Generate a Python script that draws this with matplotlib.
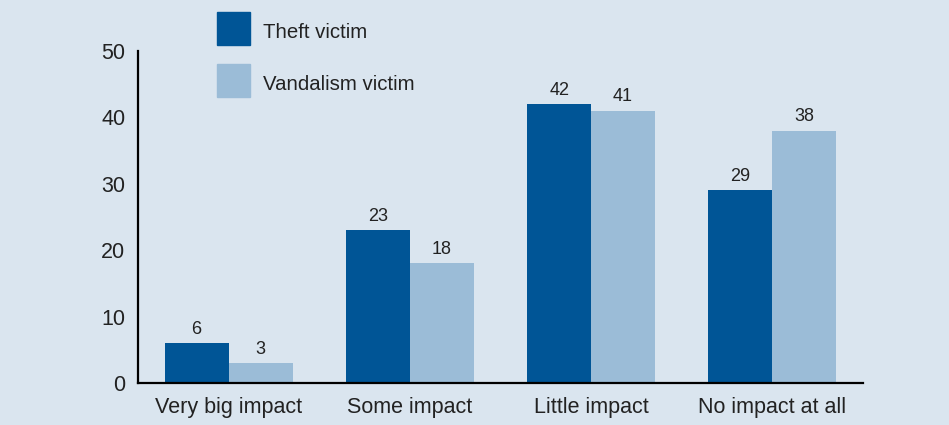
import numpy as np
import matplotlib.pyplot as plt
from matplotlib.patches import Rectangle

categories = ["Very big impact", "Some impact", "Little impact", "No impact at all"]
theft = [6, 23, 42, 29]
vandalism = [3, 18, 41, 38]
series_names = ["Theft victim", "Vandalism victim"]
yticks = [0, 10, 20, 30, 40, 50]

bg = "#dae5ef"
dark = "#005596"
light = "#9bbcd7"
txt = "#222222"

plt.rcParams['font.family'] = ['Liberation Sans', 'DejaVu Sans']

W, H = 949, 425
fig = plt.figure(figsize=(W/100, H/100), dpi=100, facecolor=bg)
ax = fig.add_axes([138/W, 42/H, 725/W, 332/H])
ax.set_facecolor(bg)

x = np.arange(len(categories))
w = 0.353
b1 = ax.bar(x - w/2, theft, w, color=dark)
b2 = ax.bar(x + w/2, vandalism, w, color=light)
ax.bar_label(b1, padding=4, fontsize=13, color=txt)
ax.bar_label(b2, padding=4, fontsize=13, color=txt)

ax.set_xlim(-0.5, 3.5)
ax.set_ylim(0, 50)
ax.set_yticks(yticks)
ax.set_xticks(x)
ax.set_xticklabels(categories)
ax.tick_params(axis='both', length=0, labelsize=15.5, colors=txt)
ax.tick_params(axis='y', pad=9)
ax.tick_params(axis='x', pad=10)
for s in ['top', 'right']:
    ax.spines[s].set_visible(False)
for s in ['left', 'bottom']:
    ax.spines[s].set_linewidth(1.6)
    ax.spines[s].set_color('black')

# legend: coloured squares with labels to the right
for i, (name, col) in enumerate(zip(series_names, [dark, light])):
    top = 12 + i * 52
    fig.patches.append(Rectangle((217/W, 1 - (top + 33)/H), 33/W, 33/H,
                                 transform=fig.transFigure, color=col))
    fig.text(263/W, 1 - (top + 21)/H, name, fontsize=14.7, color=txt,
             va='center', ha='left')

fig.savefig("out.png", dpi=100, facecolor=bg)
